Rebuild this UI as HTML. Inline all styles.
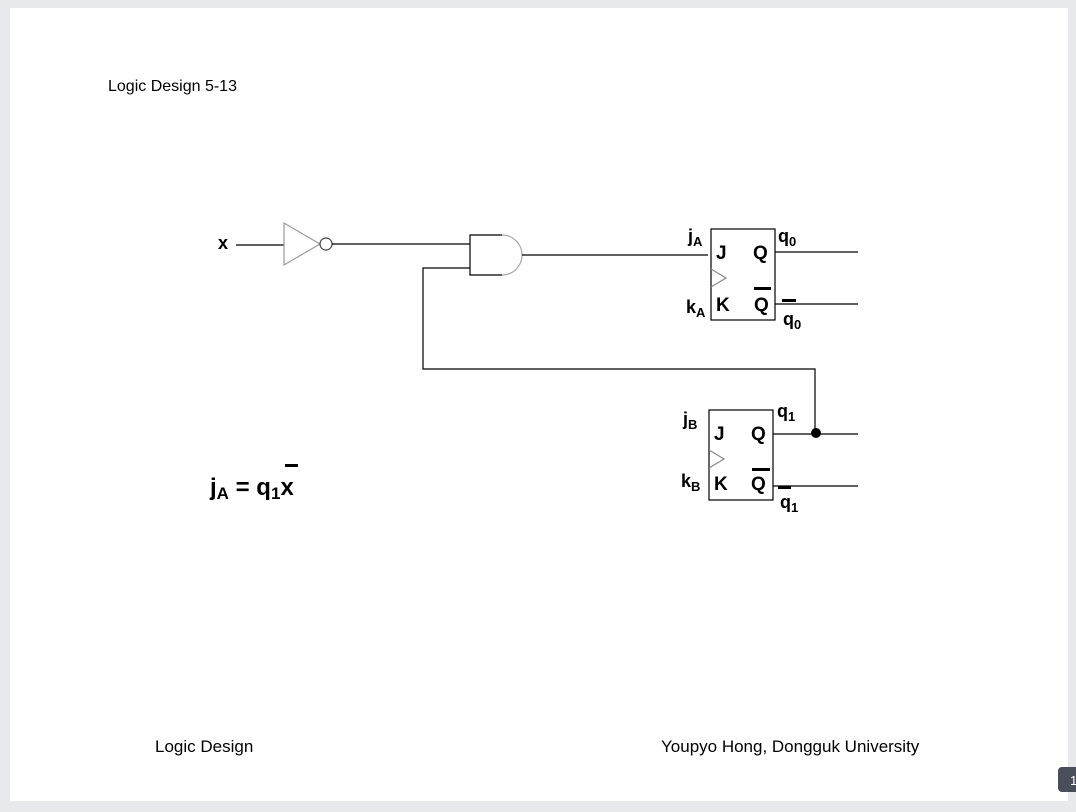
<!DOCTYPE html>
<html><head><style>
html,body{margin:0;padding:0;background:#e8e9ed;}
body{width:1076px;height:812px;position:relative;overflow:hidden;font-family:"Liberation Sans",Arial,sans-serif;}
svg{position:absolute;left:0;top:0;}
</style></head><body>
<svg width="1076" height="812" viewBox="0 0 1076 812" font-family="Liberation Sans, Arial, sans-serif">
<rect x="10" y="8" width="1058" height="793" fill="#fff"/>
<rect x="1058" y="767" width="22" height="25" rx="4" fill="#4a4d5a"/>
<text x="1070" y="785" font-size="13" fill="#fff">1</text>
<text x="108" y="91" font-size="16">Logic Design 5-13</text>
<text x="155" y="752" font-size="17">Logic Design</text>
<text x="661" y="752" font-size="17">Youpyo Hong, Dongguk University</text>
<g stroke="#000" stroke-width="1.2" fill="none">
<line x1="236" y1="245" x2="284" y2="245"/>
<polygon points="284,223 284,265 320,244" stroke="#999"/>
<circle cx="326" cy="244" r="6" stroke="#444"/>
<line x1="332" y1="244" x2="470" y2="244"/>
<path d="M502,235 H470 V275 H502"/>
<path d="M502,235 A20,20 0 0 1 502,275" stroke="#aaa"/>
<line x1="522" y1="255" x2="708" y2="255"/>
<path d="M470,268 H423 V369 H815 V433"/>
<rect x="711" y="229" width="64" height="91"/>
<polyline points="711,269 726,278 711,287" stroke="#888"/>
<line x1="775" y1="252" x2="858" y2="252"/>
<line x1="775" y1="304" x2="858" y2="304"/>
<rect x="709" y="410" width="64" height="90"/>
<polyline points="709,450 724,459 709,468" stroke="#888"/>
<line x1="773" y1="434" x2="858" y2="434"/>
<line x1="773" y1="486" x2="858" y2="486"/>
</g>
<circle cx="816" cy="433" r="5" fill="#000"/>
<g font-weight="bold" font-size="19">
<text x="716" y="259">J</text><text x="753" y="259">Q</text>
<text x="716" y="311">K</text><text x="754" y="311">Q</text>
<text x="714" y="440">J</text><text x="751" y="440">Q</text>
<text x="714" y="490">K</text><text x="751" y="490">Q</text>
<text x="218" y="249" font-size="18">x</text>
</g>
<g fill="#000">
<rect x="754" y="287" width="17" height="3"/>
<rect x="752" y="468" width="18" height="3"/>
<rect x="782" y="299" width="14" height="3"/>
<rect x="778" y="486" width="13" height="3"/>
<rect x="285" y="464" width="13" height="3"/>
</g>
<g font-weight="bold" font-size="18">
<text x="688" y="242">j<tspan font-size="13" dy="4">A</tspan></text>
<text x="778" y="242">q<tspan font-size="13" dy="4">0</tspan></text>
<text x="686" y="313">k<tspan font-size="13" dy="4">A</tspan></text>
<text x="783" y="325">q<tspan font-size="13" dy="4">0</tspan></text>
<text x="683" y="425">j<tspan font-size="13" dy="4">B</tspan></text>
<text x="777" y="417">q<tspan font-size="13" dy="4">1</tspan></text>
<text x="681" y="487">k<tspan font-size="13" dy="4">B</tspan></text>
<text x="780" y="508">q<tspan font-size="13" dy="4">1</tspan></text>
<text x="210" y="495" font-size="24">j<tspan font-size="17" dy="4">A</tspan><tspan dy="-4"> = q</tspan><tspan font-size="17" dy="4">1</tspan><tspan dy="-4">x</tspan></text>
</g>
</svg>
</body></html>
